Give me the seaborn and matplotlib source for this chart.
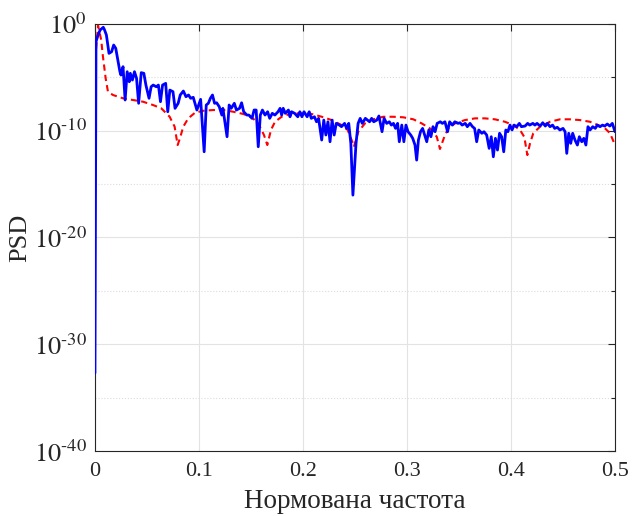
import numpy as np
import pandas as pd
import matplotlib
matplotlib.use("Agg")
import matplotlib.pyplot as plt
import seaborn as sns
from matplotlib.ticker import FixedFormatter, NullFormatter

# normalised frequency / log10(PSD)
f_meas = [0.0, 0.001, 0.003, 0.005, 0.008, 0.009, 0.011, 0.0135, 0.016, 0.018,
          0.020, 0.022, 0.024, 0.025, 0.027, 0.029, 0.031, 0.033, 0.034, 0.036,
          0.038, 0.040, 0.042, 0.0445, 0.047, 0.049, 0.052, 0.054, 0.056, 0.059,
          0.061, 0.063, 0.065, 0.068, 0.070, 0.072, 0.075, 0.077, 0.080, 0.082,
          0.085, 0.0875, 0.090, 0.092, 0.0945, 0.098, 0.1016, 0.105, 0.107, 0.109,
          0.111, 0.113, 0.115, 0.117, 0.1195, 0.122, 0.123, 0.127, 0.129, 0.131,
          0.134, 0.136, 0.139, 0.141, 0.143, 0.146, 0.148, 0.151, 0.153, 0.155,
          0.157, 0.159, 0.161, 0.1635, 0.166, 0.168, 0.1705, 0.173, 0.176, 0.178,
          0.1795, 0.181, 0.183, 0.186, 0.1875, 0.189, 0.192, 0.195, 0.197, 0.199,
          0.201, 0.204, 0.206, 0.208, 0.211, 0.213, 0.215, 0.218, 0.220, 0.222,
          0.224, 0.226, 0.228, 0.230, 0.232, 0.235, 0.237, 0.240, 0.242, 0.244,
          0.246, 0.248, 0.251, 0.253, 0.255, 0.257, 0.260, 0.262, 0.264, 0.266,
          0.268, 0.271, 0.273, 0.276, 0.278, 0.2805, 0.283, 0.285, 0.287, 0.289,
          0.291, 0.2926, 0.295, 0.297, 0.299, 0.301, 0.3036, 0.3055, 0.3077, 0.3093,
          0.311, 0.313, 0.315, 0.317, 0.319, 0.321, 0.323, 0.325, 0.327, 0.329,
          0.332, 0.334, 0.3365, 0.339, 0.341, 0.3436, 0.346, 0.349, 0.351, 0.353,
          0.356, 0.358, 0.3606, 0.363, 0.365, 0.367, 0.369, 0.372, 0.374, 0.3766,
          0.379, 0.381, 0.383, 0.385, 0.387, 0.389, 0.391, 0.393, 0.395, 0.397,
          0.399, 0.401, 0.403, 0.4055, 0.408, 0.410, 0.4135, 0.416, 0.418, 0.421,
          0.423, 0.425, 0.428, 0.4305, 0.433, 0.435, 0.4375, 0.440, 0.442, 0.4445,
          0.447, 0.450, 0.452, 0.4536, 0.4555, 0.4574, 0.4593, 0.4615, 0.4638, 0.4657,
          0.468, 0.470, 0.472, 0.474, 0.476, 0.4786, 0.481, 0.483, 0.4856, 0.488,
          0.490, 0.4926, 0.495, 0.4974, 0.500]
psd_meas_exp = [-32.7, -1.66, -1.03, -0.56, -0.31, -0.50, -1.03, -2.75, -2.60, -1.97,
                -2.28, -3.37, -4.47, -4.78, -4.00, -7.12, -4.47, -5.41, -4.62, -5.25,
                -4.47, -5.09, -7.43, -4.56, -4.62, -5.72, -6.96, -5.88, -5.72, -5.88,
                -5.72, -7.28, -5.72, -5.56, -8.22, -6.19, -6.34, -7.90, -7.43, -6.65,
                -6.28, -6.81, -6.65, -6.96, -6.87, -8.06, -7.06, -11.97, -7.59, -7.43,
                -6.96, -6.65, -7.43, -7.38, -7.75, -8.53, -7.90, -10.56, -7.59, -7.90,
                -7.43, -8.06, -7.90, -7.38, -8.22, -8.53, -8.53, -8.84, -8.06, -8.06,
                -11.50, -8.53, -8.06, -8.53, -8.22, -8.84, -8.37, -8.53, -8.22, -7.90,
                -8.53, -7.90, -8.37, -8.06, -8.69, -8.22, -8.37, -8.69, -8.22, -8.69,
                -8.22, -8.69, -8.22, -8.84, -8.69, -9.16, -8.84, -10.87, -9.00, -10.40,
                -9.16, -11.03, -9.00, -10.40, -9.31, -9.47, -9.62, -9.31, -9.78, -9.31,
                -11.18, -16.03, -11.18, -9.31, -8.84, -9.31, -8.84, -9.00, -9.16, -8.84,
                -9.16, -9.00, -8.62, -10.09, -8.84, -9.31, -9.16, -9.47, -9.31, -9.78,
                -9.31, -11.03, -9.47, -11.03, -9.47, -10.09, -10.40, -10.71, -11.34, -12.75,
                -10.87, -10.09, -9.78, -10.40, -11.03, -9.93, -10.56, -9.62, -10.09, -9.31,
                -9.16, -9.31, -9.16, -10.09, -9.16, -9.47, -9.16, -9.31, -9.25, -9.47,
                -9.31, -9.62, -9.31, -9.62, -9.78, -11.03, -9.93, -10.24, -10.09, -10.40,
                -11.65, -10.56, -12.44, -10.71, -11.81, -10.24, -10.56, -11.97, -9.93, -10.09,
                -9.47, -9.93, -9.47, -9.62, -9.31, -9.62, -9.56, -9.31, -9.47, -9.31,
                -9.47, -9.31, -9.56, -9.25, -9.56, -9.31, -9.62, -9.47, -9.78, -9.68,
                -9.93, -9.78, -10.09, -12.12, -10.24, -11.18, -10.24, -10.87, -11.34, -10.56,
                -11.03, -10.71, -11.34, -9.62, -9.93, -9.62, -9.78, -9.47, -9.62, -9.47,
                -9.56, -9.37, -9.56, -9.31, -10.09]

f_theory = [0.0, 0.001, 0.003, 0.006, 0.0077, 0.0103, 0.0125, 0.0173, 0.0269, 0.0365,
            0.0462, 0.0558, 0.0638, 0.0718, 0.0766, 0.0795, 0.0817, 0.0849, 0.0897, 0.0962,
            0.1041, 0.1138, 0.1234, 0.1330, 0.1426, 0.1507, 0.1570, 0.1625, 0.1657, 0.1692,
            0.1731, 0.1795, 0.1891, 0.1988, 0.2084, 0.2180, 0.2276, 0.2372, 0.2430, 0.2474,
            0.2490, 0.2532, 0.2596, 0.2676, 0.2772, 0.2868, 0.2964, 0.3061, 0.3141, 0.3221,
            0.3286, 0.3317, 0.3359, 0.3397, 0.3462, 0.3558, 0.3654, 0.3750, 0.3846, 0.3942,
            0.4022, 0.4087, 0.4128, 0.4157, 0.4183, 0.4214, 0.4279, 0.4375, 0.4471, 0.4567,
            0.4663, 0.4760, 0.4839, 0.4904, 0.4952, 0.5000]
psd_theory_exp = [-6.19, -2.44, -0.14, -1.50, -3.06, -5.09, -6.34, -6.65, -6.96, -7.12,
                  -7.28, -7.59, -7.90, -8.69, -9.62, -11.34, -10.71, -9.62, -8.84, -8.31,
                  -8.13, -8.06, -8.06, -8.22, -8.43, -8.74, -9.31, -10.40, -11.34, -9.93,
                  -9.16, -8.69, -8.37, -8.37, -8.43, -8.69, -9.00, -9.47, -9.93, -11.03,
                  -11.50, -10.09, -9.31, -8.93, -8.69, -8.69, -8.74, -8.93, -9.31, -9.78,
                  -10.56, -11.71, -10.56, -9.78, -9.31, -9.00, -8.84, -8.84, -8.93, -9.16,
                  -9.47, -9.93, -10.59, -12.28, -11.18, -10.24, -9.62, -9.16, -8.93, -8.93,
                  -9.00, -9.16, -9.47, -9.78, -10.24, -11.34]

y_major = [1e-40, 1e-30, 1e-20, 1e-10, 1e0]
y_major_labels = [r'$10^{\text{-40}}$', r'$10^{\text{-30}}$', r'$10^{\text{-20}}$',
                  r'$10^{\text{-10}}$', r'$10^{0}$']
y_minor = [1e-35, 1e-25, 1e-15, 1e-5]
x_ticks = [0, 0.1, 0.2, 0.3, 0.4, 0.5]
x_tick_labels = ['0', '0.1', '0.2', '0.3', '0.4', '0.5']

meas = pd.DataFrame({'f': f_meas, 'psd': 10.0 ** np.array(psd_meas_exp)})
theory = pd.DataFrame({'f': f_theory, 'psd': 10.0 ** np.array(psd_theory_exp)})

sns.set_theme(style='white')
plt.rcParams['font.family'] = ['Liberation Serif', 'DejaVu Serif']
plt.rcParams['mathtext.fontset'] = 'stix'

fig = plt.figure(figsize=(6.33, 5.16), dpi=100)
ax = fig.add_axes([0.150, 0.126, 0.8216, 0.8275])

sns.lineplot(data=theory, x='f', y='psd', ax=ax, color=(1, 0, 0), lw=1.5,
             dashes=False, linestyle=(0, (3, 2)), sort=False, estimator=None, zorder=3)
sns.lineplot(data=meas, x='f', y='psd', ax=ax, color=(0, 0, 1), lw=2.0,
             sort=False, estimator=None, zorder=4)

ax.set_yscale('log')
ax.set_xlim(0, 0.5)
ax.set_ylim(1e-40, 1e0)
ax.set_yticks(y_major)
ax.yaxis.set_major_formatter(FixedFormatter(y_major_labels))
ax.set_yticks(y_minor, minor=True)
ax.yaxis.set_minor_formatter(NullFormatter())
ax.set_xticks(x_ticks)
ax.set_xticklabels(x_tick_labels)

ax.grid(which='major', color='#e3e3e3', lw=0.8, ls='-')
ax.grid(which='minor', axis='y', color='#dcdcdc', lw=0.8, ls=':')
ax.set_axisbelow(True)

ax.tick_params(which='both', direction='in', top=True, right=True,
               color='#262626', width=0.8, labelcolor='#262626')
ax.tick_params(which='major', length=5)
ax.tick_params(which='minor', length=3)
ax.tick_params(axis='x', labelsize=16, pad=8)
ax.tick_params(axis='y', labelsize=19, pad=6)
for s in ax.spines.values():
    s.set_color('#262626')
    s.set_linewidth(0.8)

ax.set_xlabel('Нормована частота', fontsize=19.5, color='#262626', labelpad=6)
ax.set_ylabel('PSD', fontsize=19, color='#262626')
ax.yaxis.set_label_coords(-0.123, 0.5)

fig.savefig('out.png', dpi=100, facecolor='white')
